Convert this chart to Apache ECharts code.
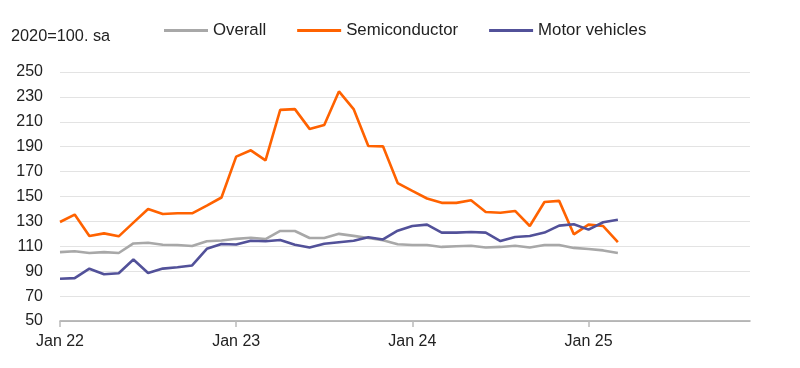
<!DOCTYPE html>
<html>
<head>
<meta charset="utf-8">
<script src="https://cdn.jsdelivr.net/npm/echarts@6/dist/echarts.min.js"></script>
<style>
html,body{margin:0;padding:0;background:#fff;}
#chart{width:800px;height:368px;}
</style>
</head>
<body>
<div id="chart"></div>
<script>
// Monthly categories Jan 22 .. Dec 25
var monthNames = ['Jan','Feb','Mar','Apr','May','Jun','Jul','Aug','Sep','Oct','Nov','Dec'];
var years = ['22','23','24','25'];
var categories = [];
years.forEach(function(y){ monthNames.forEach(function(m){ categories.push(m + ' ' + y); }); });

var overall = [105.3,106,104.6,105.3,104.6,112.3,112.8,111.2,111,110.2,114,114.7,
               116,116.9,115.8,122.3,122.3,116.7,116.7,120,118.4,116.7,114.8,111.7,
               111.1,111,109.5,110,110.5,109,109.5,110.5,109,111,111,108.7,
               107.8,106.7,104.6];
var semiconductor = [129.5,135.5,118.2,120.4,118,129,140,136,136.5,136.5,142.7,149.2,
                     182,187.1,179,219.6,220.2,204.3,207.5,234.4,220.2,190.6,190.3,160.8,
                     154.5,148.4,144.9,144.9,147,137.6,137,138.4,126.3,145.6,146.5,119.6,
                     127.4,126.3,113.4];
var motorVehicles = [83.9,84.4,92,87.6,88.4,99.4,88.6,92.1,93.2,94.6,108,111.8,
                     111.5,114.5,114,115,111.2,109.1,112,113.3,114.4,117.2,115.5,122.5,
                     126.3,127.4,121,121,121.5,121,114.2,117.5,118.3,121,126.6,127.7,
                     123.4,129.3,131.4];

var seriesNames = ['Overall','Semiconductor','Motor vehicles'];
var colors = ['#A8A8A8','#FF6200','#525199'];
var font = '"Liberation Sans", Arial, sans-serif';

var chart = echarts.init(document.getElementById('chart'), null, {renderer:'canvas'});
function mk(name, data, color){
  return {
    name: name, type: 'line', data: data, symbol: 'none', smooth: false,
    lineStyle: {color: color, width: 2.6}, itemStyle: {color: color},
    emphasis: {disabled: true}
  };
}
chart.setOption({
  animation: false,
  backgroundColor: '#ffffff',
  textStyle: {fontFamily: font},
  title: {
    text: '2020=100. sa', left: 11, top: 29, padding: 0,
    textStyle: {fontSize: 16.3, fontWeight: 'normal', color: '#222', fontFamily: font}
  },
  legend: {
    data: seriesNames, left: 164, top: 22, padding: 0,
    icon: 'rect', itemWidth: 44, itemHeight: 3, itemGap: 31,
    textStyle: {fontSize: 16.8, color: '#222', fontFamily: font}
  },
  grid: {left: 60, right: 50, top: 72, bottom: 47, containLabel: false},
  xAxis: {
    type: 'category', data: categories, boundaryGap: false,
    axisLine: {lineStyle: {color: '#a6a6a6', width: 1.5}},
    axisTick: {interval: 11, length: 6, lineStyle: {color: '#bbbbbb', width: 1.5}},
    axisLabel: {interval: 11, margin: 13, fontSize: 16, color: '#222', fontFamily: font},
    splitLine: {show: false}
  },
  yAxis: {
    type: 'value', min: 50, max: 250, interval: 20,
    axisLine: {show: false}, axisTick: {show: false},
    axisLabel: {margin: 17, fontSize: 16, color: '#222', fontFamily: font},
    splitLine: {lineStyle: {color: '#e3e3e3', width: 1.2}}
  },
  series: [
    mk(seriesNames[0], overall, colors[0]),
    mk(seriesNames[1], semiconductor, colors[1]),
    mk(seriesNames[2], motorVehicles, colors[2])
  ]
});
</script>
</body>
</html>
